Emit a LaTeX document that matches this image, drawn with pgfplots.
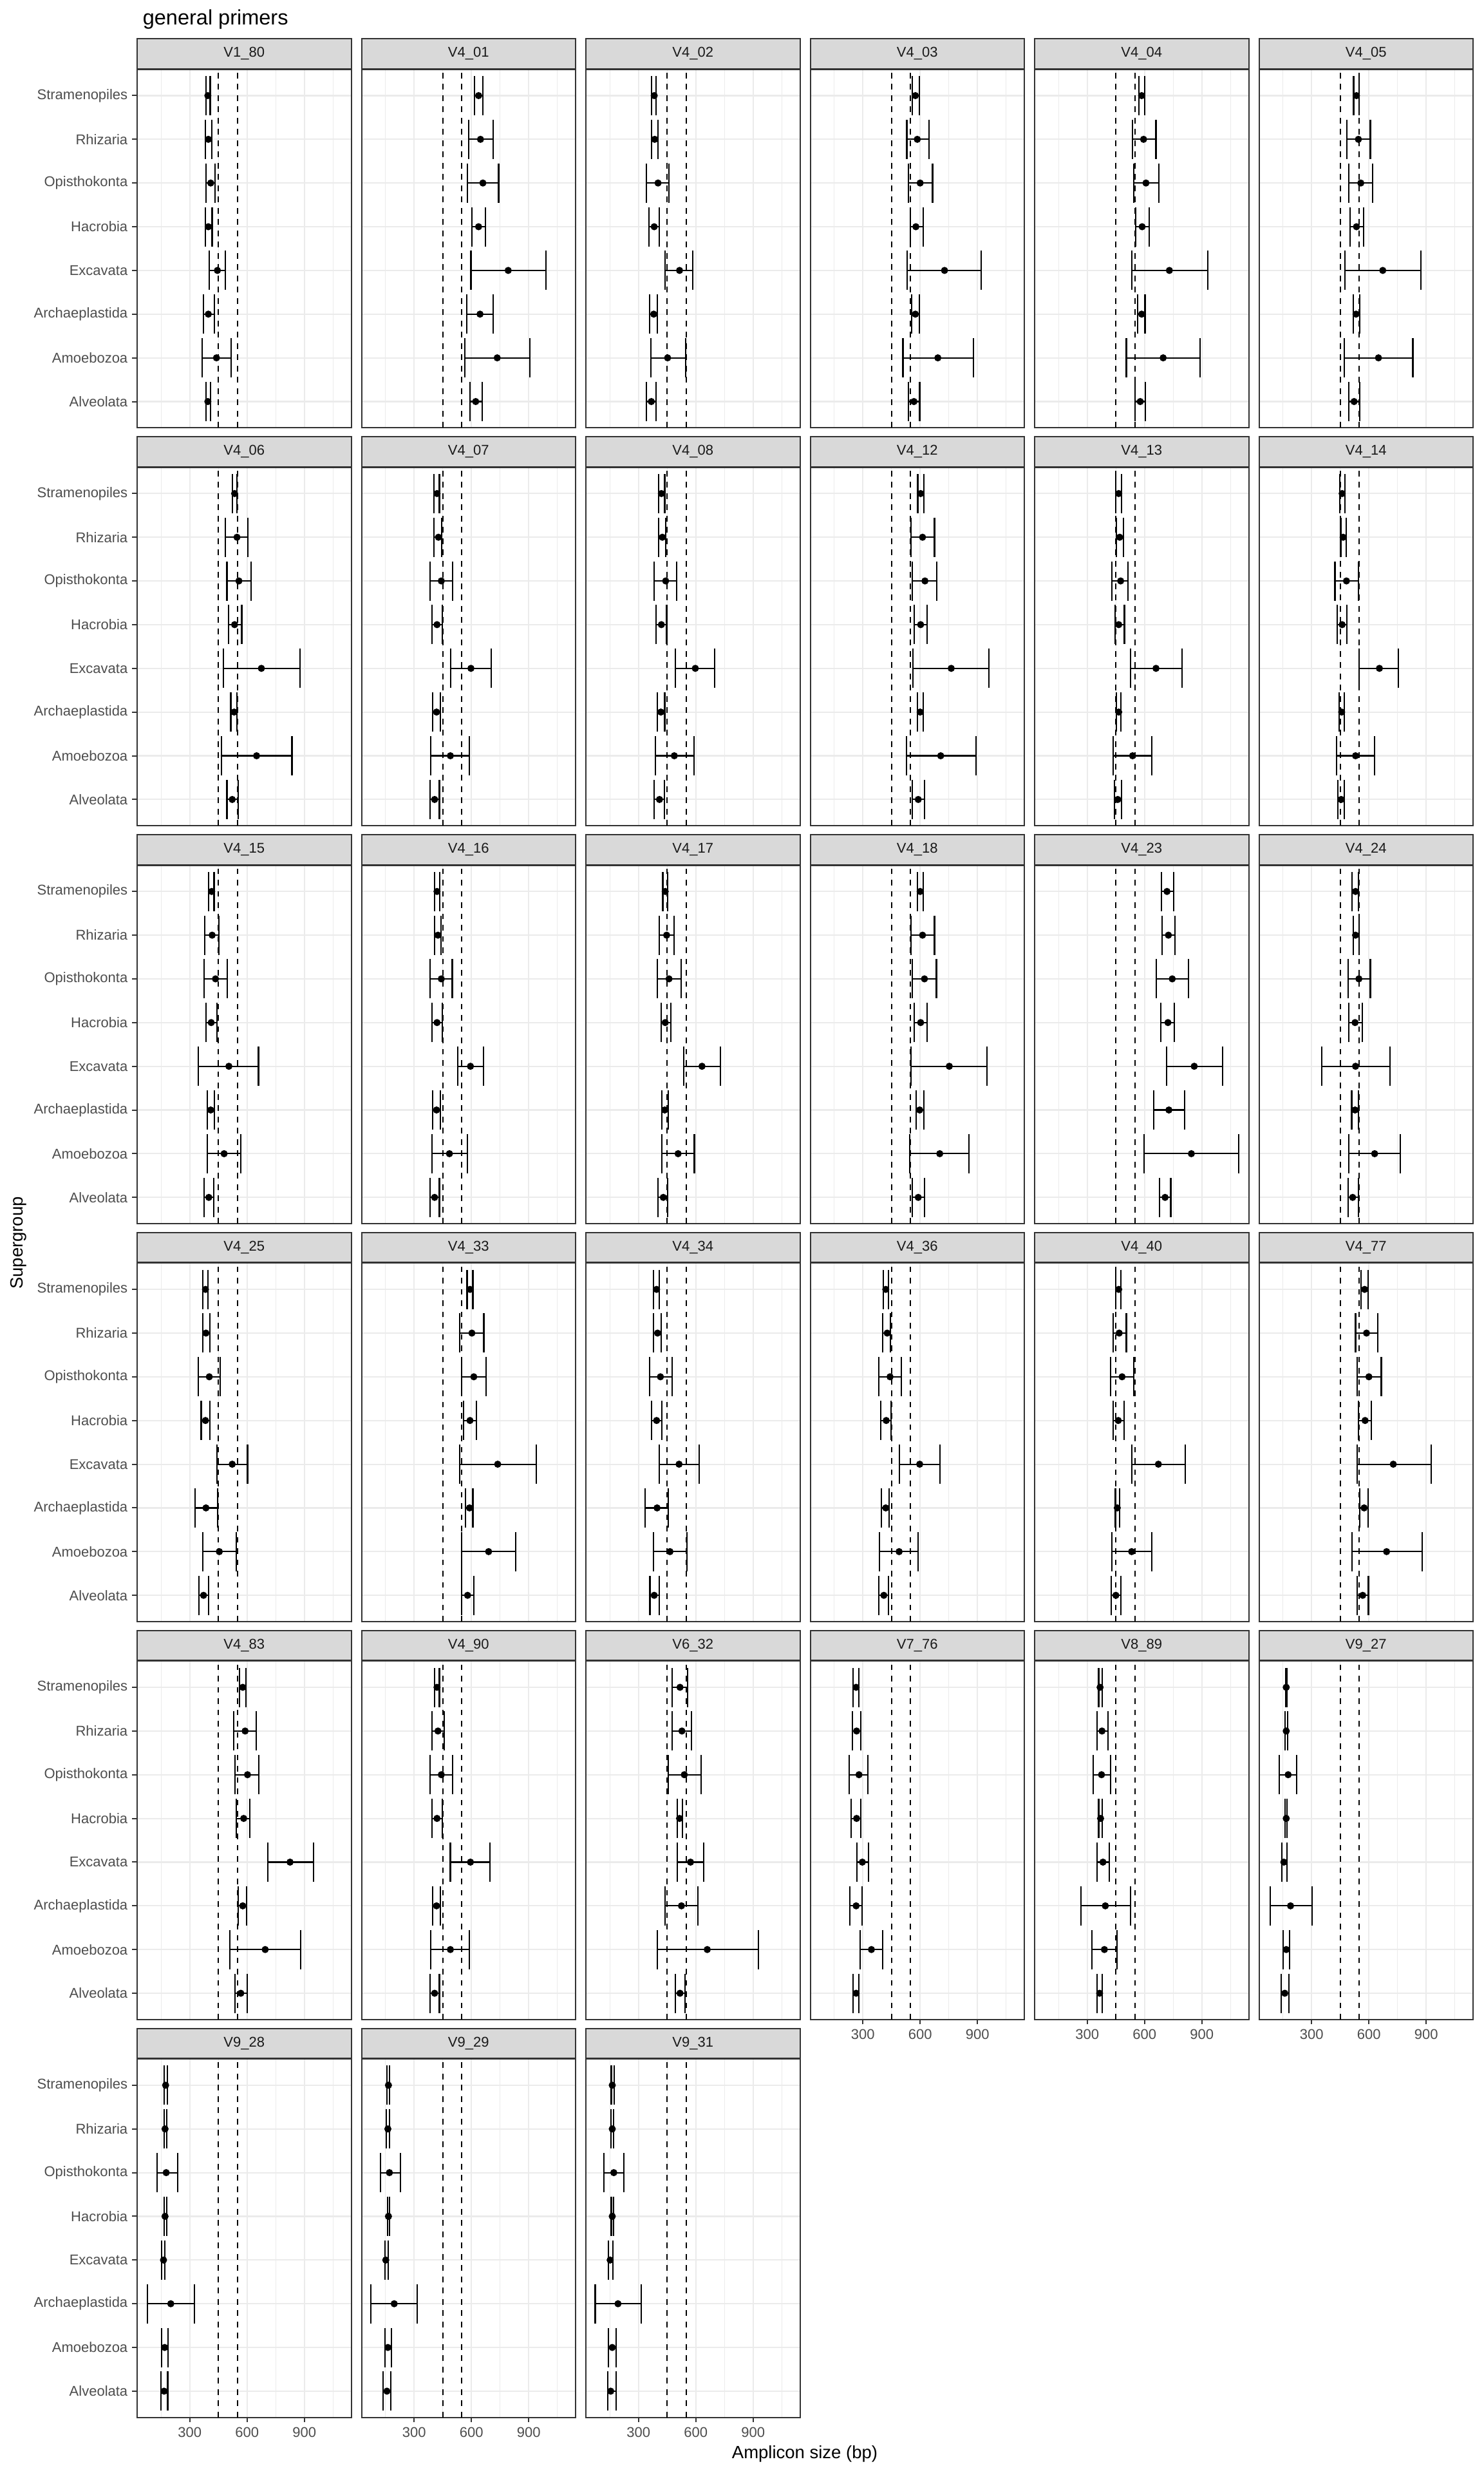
\documentclass[border=0pt]{standalone}
\usepackage{fontspec}
\setmainfont{Liberation Sans}
\usepackage{pgfplots}
\pgfplotsset{compat=1.18}
\definecolor{grey10}{HTML}{1A1A1A}
\definecolor{grey20}{HTML}{333333}
\definecolor{grey30}{HTML}{4D4D4D}
\definecolor{grey85}{HTML}{D9D9D9}
\definecolor{grey92}{HTML}{EBEBEB}
\pgfplotsset{
  every axis title/.style={at={(0.5,1)}, anchor=south, fill=grey85, draw=grey20, line width=0.8pt,
    minimum width=133pt, minimum height=18.6pt, inner sep=0pt, text=grey10,
    font=\fontsize{8.8}{10}\selectfont},
  panel/.style={width=133pt, height=222.6pt, scale only axis, anchor=north west,
    xmin=25, xmax=1145, ymin=0.4, ymax=8.6,
    xtick={300,600,900}, minor xtick={150,450,750,1050}, ytick={1,2,3,4,5,6,7,8},
    xtick pos=bottom, ytick pos=left,
    grid=both, major grid style={grey92, line width=0.85pt}, minor grid style={grey92, line width=0.45pt},
    axis line style={grey20, line width=0.8pt},
    tick align=outside, major tick length=3pt, minor tick length=0pt,
    tick label style={inner sep=0pt, text=grey30, font=\fontsize{8.8}{10}\selectfont},
    yticklabel style={xshift=-2.7pt},
    xticklabel style={yshift=-3pt},
    /pgf/number format/assume math mode=true},
  leftcol/.style={yticklabels={Alveolata,Amoebozoa,Archaeplastida,Excavata,Hacrobia,Opisthokonta,Rhizaria,Stramenopiles},
    ytick style={draw=grey20, line width=0.8pt}},
  notleft/.style={yticklabels={}, ytick style={draw=none}},
  bottomrow/.style={xticklabels={300,600,900}, xtick style={draw=grey20, line width=0.8pt}},
  notbottom/.style={xticklabels={}, xtick style={draw=none}},
  vl/.style={black, line width=0.8pt, dash pattern=on 3.5pt off 3.5pt},
}
\newcommand{\panel}[4]{%
\begin{axis}[panel, at={(#1)}, title={#2}, #3]
\addplot[vl] coordinates {(450,0.4) (450,8.6)};
\addplot[vl] coordinates {(550,0.4) (550,8.6)};
\addplot[only marks, mark=*, mark size=2pt, black, mark options={fill=black, draw=black},
  error bars/.cd, x dir=both, x explicit,
  error bar style={line width=0.85pt, black},
  error mark options={black, line width=0.85pt, mark size=12.2pt, rotate=90}]
  table[row sep=\\, header=false, x index=1, y index=3,
    x error plus expr=\thisrowno{2}-\thisrowno{1},
    x error minus expr=\thisrowno{1}-\thisrowno{0}] {#4};
\end{axis}}
\begin{document}
\begin{tikzpicture}
\path[use as bounding box] (0pt,0pt) rectangle (921.6pt,-1536pt);
\node[anchor=base west, font=\fontsize{13}{15}\selectfont] at (85.2pt,-15.4pt) {general primers};
\node[rotate=90, font=\fontsize{11}{13}\selectfont] at (11.6pt,-772pt) {Supergroup};
\node[anchor=base, font=\fontsize{11}{13}\selectfont] at (500pt,-1526.8pt) {Amplicon size (bp)};
% Row 1
\panel{85.2pt,-43.1pt}{V1\_80}{leftcol,notbottom}{385 395 407.5 8\\ 382.5 397.5 415 7\\ 385 410 432.5 6\\ 382.5 397.5 417.5 5\\ 402.5 445 487.5 4\\ 372.5 397.5 430 3\\ 365 440 517.5 2\\ 385 395 410 1\\}
\panel{224.6pt,-43.1pt}{V4\_01}{notleft,notbottom}{617.5 637.5 660 8\\ 585 647.5 715 7\\ 580 660 742.5 6\\ 602.5 637.5 672.5 5\\ 597.5 792.5 990 4\\ 575 645 712.5 3\\ 565 735 905 2\\ 592.5 622.5 657.5 1\\}
\panel{364.0pt,-43.1pt}{V4\_02}{notleft,notbottom}{367.5 382.5 392.5 8\\ 370 385 402.5 7\\ 342.5 402.5 460 6\\ 355 382.5 410 5\\ 440 515 585 4\\ 357.5 380 400 3\\ 365 452.5 547.5 2\\ 342.5 367.5 392.5 1\\}
\panel{503.4pt,-43.1pt}{V4\_03}{notleft,notbottom}{557.5 575 595 8\\ 530 585 647.5 7\\ 540 600 665 6\\ 547.5 577.5 615 5\\ 532.5 727.5 920 4\\ 555 575 595 3\\ 510 692.5 877.5 2\\ 540 567.5 597.5 1\\}
\panel{642.8pt,-43.1pt}{V4\_04}{notleft,notbottom}{570 585 600 8\\ 537.5 595 660 7\\ 545 607.5 675 6\\ 555 587.5 625 5\\ 532.5 730 930 4\\ 565 585 602.5 3\\ 505 697.5 890 2\\ 550 577.5 605 1\\}
\panel{782.2pt,-43.1pt}{V4\_05}{notleft,notbottom}{520 535 550 8\\ 485 545 607.5 7\\ 495 557.5 620 6\\ 502.5 535 572.5 5\\ 475 672.5 872.5 4\\ 517.5 532.5 552.5 3\\ 470 650 830 2\\ 495 522.5 552.5 1\\}
% Row 2
\panel{85.2pt,-290.25pt}{V4\_06}{leftcol,notbottom}{522.5 535 547.5 8\\ 487.5 547.5 605 7\\ 495 557.5 622.5 6\\ 502.5 535 572.5 5\\ 477.5 675 877.5 4\\ 515 532.5 547.5 3\\ 467.5 650 835 2\\ 495 522.5 552.5 1\\}
\panel{224.6pt,-290.25pt}{V4\_07}{notleft,notbottom}{405 420 432.5 8\\ 405 427.5 445 7\\ 382.5 442.5 502.5 6\\ 392.5 420 447.5 5\\ 492.5 597.5 702.5 4\\ 397.5 417.5 437.5 3\\ 387.5 490 590 2\\ 385 407.5 432.5 1\\}
\panel{364.0pt,-290.25pt}{V4\_08}{notleft,notbottom}{405 420 437.5 8\\ 405 425 442.5 7\\ 382.5 442.5 500 6\\ 392.5 420 447.5 5\\ 492.5 597.5 700 4\\ 397.5 417.5 437.5 3\\ 387.5 487.5 590 2\\ 382.5 410 435 1\\}
\panel{503.4pt,-290.25pt}{V4\_12}{notleft,notbottom}{587.5 602.5 620 8\\ 552.5 612.5 675 7\\ 560 625 687.5 6\\ 567.5 602.5 637.5 5\\ 562.5 762.5 960 4\\ 585 600 615 3\\ 527.5 707.5 892.5 2\\ 557.5 590 622.5 1\\}
\panel{642.8pt,-290.25pt}{V4\_13}{notleft,notbottom}{450 465 480 8\\ 452.5 470 490 7\\ 430 475 512.5 6\\ 445 465 495 5\\ 527.5 660 797.5 4\\ 452.5 465 477.5 3\\ 435 537.5 637.5 2\\ 442.5 460 480 1\\}
\panel{782.2pt,-290.25pt}{V4\_14}{notleft,notbottom}{447.5 460 475 8\\ 452.5 465 480 7\\ 422.5 482.5 545 6\\ 435 460 485 5\\ 550 655 755 4\\ 445 457.5 472.5 3\\ 430 530 630 2\\ 437.5 455 472.5 1\\}
% Row 3
\panel{85.2pt,-537.4pt}{V4\_15}{leftcol,notbottom}{400 415 427.5 8\\ 380 417.5 452.5 7\\ 375 435 497.5 6\\ 385 412.5 442.5 5\\ 345 505 660 4\\ 392.5 410 430 3\\ 392.5 480 567.5 2\\ 375 400 425 1\\}
\panel{224.6pt,-537.4pt}{V4\_16}{notleft,notbottom}{407.5 420 435 8\\ 407.5 425 440 7\\ 385 442.5 500 6\\ 395 420 447.5 5\\ 527.5 595 662.5 4\\ 397.5 417.5 437.5 3\\ 392.5 485 580 2\\ 385 407.5 432.5 1\\}
\panel{364.0pt,-537.4pt}{V4\_17}{notleft,notbottom}{427.5 440 452.5 8\\ 407.5 447.5 487.5 7\\ 400 460 522.5 6\\ 420 440 470 5\\ 537.5 632.5 727.5 4\\ 422.5 437.5 457.5 3\\ 422.5 507.5 592.5 2\\ 402.5 430 452.5 1\\}
\panel{503.4pt,-537.4pt}{V4\_18}{notleft,notbottom}{585 600 615 8\\ 552.5 612.5 675 7\\ 557.5 622.5 685 6\\ 567.5 602.5 637.5 5\\ 552.5 752.5 950 4\\ 580 597.5 620 3\\ 545 702.5 855 2\\ 557.5 590 622.5 1\\}
\panel{642.8pt,-537.4pt}{V4\_23}{notleft,notbottom}{687.5 717.5 752.5 8\\ 692.5 725 760 7\\ 662.5 745 830 6\\ 685 722.5 755 5\\ 715 860 1007.5 4\\ 647.5 727.5 810 3\\ 597.5 845 1092.5 2\\ 677.5 707.5 737.5 1\\}
\panel{782.2pt,-537.4pt}{V4\_24}{notleft,notbottom}{512.5 530 545 8\\ 517.5 530 547.5 7\\ 490 547.5 607.5 6\\ 495 527.5 565 5\\ 352.5 530 710 4\\ 510 527.5 545 3\\ 495 630 765 2\\ 490 515 545 1\\}
% Row 4
\panel{85.2pt,-784.55pt}{V4\_25}{leftcol,notbottom}{370 382.5 395 8\\ 370 385 405 7\\ 345 402.5 460 6\\ 360 382.5 405 5\\ 442.5 522.5 602.5 4\\ 327.5 385 447.5 3\\ 367.5 455 542.5 2\\ 347.5 372.5 397.5 1\\}
\panel{224.6pt,-784.55pt}{V4\_33}{notleft,notbottom}{577.5 592.5 607.5 8\\ 540 602.5 665 7\\ 550 612.5 677.5 6\\ 557.5 592.5 627.5 5\\ 540 737.5 940 4\\ 570 590 607.5 3\\ 550 690 832.5 2\\ 550 580 612.5 1\\}
\panel{364.0pt,-784.55pt}{V4\_34}{notleft,notbottom}{380 395 410 8\\ 380 400 420 7\\ 357.5 415 475 6\\ 370 395 422.5 5\\ 407.5 512.5 617.5 4\\ 335 397.5 457.5 3\\ 377.5 465 555 2\\ 360 382.5 410 1\\}
\panel{503.4pt,-784.55pt}{V4\_36}{notleft,notbottom}{407.5 420 435 8\\ 405 427.5 445 7\\ 382.5 442.5 502.5 6\\ 392.5 422.5 447.5 5\\ 492.5 597.5 702.5 4\\ 397.5 420 437.5 3\\ 387.5 490 590 2\\ 385 410 435 1\\}
\panel{642.8pt,-784.55pt}{V4\_40}{notleft,notbottom}{450 465 477.5 8\\ 435 467.5 505 7\\ 422.5 482.5 545 6\\ 435 462.5 492.5 5\\ 532.5 672.5 812.5 4\\ 447.5 457.5 470 3\\ 430 532.5 637.5 2\\ 425 450 475 1\\}
\panel{782.2pt,-784.55pt}{V4\_77}{notleft,notbottom}{560 577.5 595 8\\ 530 587.5 647.5 7\\ 537.5 600 665 6\\ 545 580 612.5 5\\ 540 727.5 925 4\\ 552.5 575 595 3\\ 512.5 692.5 877.5 2\\ 540 567.5 597.5 1\\}
% Row 5
\panel{85.2pt,-1031.7pt}{V4\_83}{leftcol,notbottom}{560 577.5 595 8\\ 530 590 647.5 7\\ 537.5 602.5 662.5 6\\ 545 582.5 615 5\\ 707.5 825 947.5 4\\ 555 577.5 597.5 3\\ 510 695 880 2\\ 537.5 567.5 600 1\\}
\panel{224.6pt,-1031.7pt}{V4\_90}{notleft,notbottom}{407.5 420 432.5 8\\ 392.5 425 457.5 7\\ 382.5 442.5 502.5 6\\ 395 420 447.5 5\\ 490 595 697.5 4\\ 397.5 417.5 437.5 3\\ 387.5 490 590 2\\ 385 407.5 432.5 1\\}
\panel{364.0pt,-1031.7pt}{V6\_32}{notleft,notbottom}{477.5 517.5 557.5 8\\ 475 527.5 577.5 7\\ 455 540 627.5 6\\ 502.5 515 530 5\\ 502.5 572.5 642.5 4\\ 440 525 610 3\\ 397.5 660 927.5 2\\ 492.5 517.5 542.5 1\\}
\panel{503.4pt,-1031.7pt}{V7\_76}{notleft,bottomrow}{247.5 265 280 8\\ 245 267.5 290 7\\ 230 280 325 6\\ 240 267.5 290 5\\ 270 297.5 330 4\\ 232.5 265 295 3\\ 285 345 405 2\\ 247.5 265 280 1\\}
\panel{642.8pt,-1031.7pt}{V8\_89}{notleft,bottomrow}{360 367.5 377.5 8\\ 352.5 377.5 407.5 7\\ 332.5 375 422.5 6\\ 360 370 380 5\\ 352.5 382.5 415 4\\ 267.5 395 527.5 3\\ 325 390 455 2\\ 352.5 365 380 1\\}
\panel{782.2pt,-1031.7pt}{V9\_27}{notleft,bottomrow}{165 167.5 170 8\\ 162.5 167.5 175 7\\ 130 177.5 222.5 6\\ 162.5 167.5 172.5 5\\ 145 155 170 4\\ 82.5 190 302.5 3\\ 150 167.5 185 2\\ 142.5 160 182.5 1\\}
% Row 6
\panel{85.2pt,-1278.85pt}{V9\_28}{leftcol,bottomrow}{166 174 182 8\\ 166 171 180 7\\ 128 177 236 6\\ 166 171 180 5\\ 152 163 171 4\\ 79 201 326 3\\ 152 169 188 2\\ 150 166 185 1\\}
\panel{224.6pt,-1278.85pt}{V9\_29}{notleft,bottomrow}{158 166 171 8\\ 155 163 171 7\\ 123 171 228 6\\ 161 166 171 5\\ 147 152 166 4\\ 74 196 317 3\\ 147 163 182 2\\ 139 158 177 1\\}
\panel{364.0pt,-1278.85pt}{V9\_31}{notleft,bottomrow}{158 163 172 8\\ 155 163 171 7\\ 120 171 225 6\\ 158 163 169 5\\ 144 152 166 4\\ 74 193 315 3\\ 144 163 182 2\\ 139 155 182 1\\}
\end{tikzpicture}
\end{document}
